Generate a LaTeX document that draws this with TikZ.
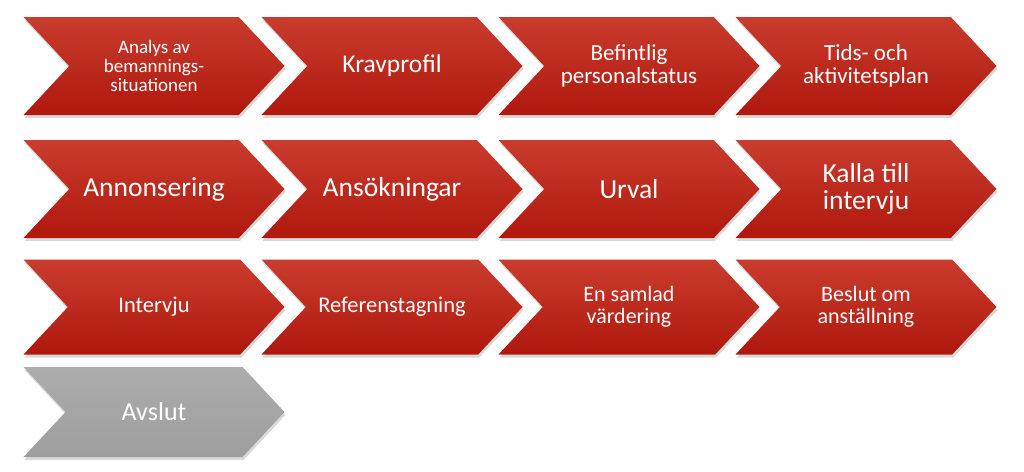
\documentclass[tikz,border=0pt]{standalone}
\usepackage{fontspec}
\setmainfont{Carlito}
\usetikzlibrary{shapes.symbols,shadows}
\definecolor{redtop}{RGB}{201,60,46}
\definecolor{redbot}{RGB}{176,24,14}
\definecolor{graytop}{RGB}{172,172,172}
\definecolor{graybot}{RGB}{158,158,158}
\newcommand{\fsz}[1]{\fontsize{#1}{#1}\selectfont}
\begin{document}
\begin{tikzpicture}
            [
                x=1pt, y=-1pt,
                phase/.style={signal, signal from=west, signal to=east, signal pointer angle=94,
                    inner sep=0pt, minimum width=261pt, minimum height=98pt, align=center,
                    text=white, top color=redtop, bottom color=redbot,
                    drop shadow={opacity=0.3, shadow xshift=1pt, shadow yshift=-3pt}},
                closing/.style={phase, top color=graytop, bottom color=graybot}
            ]
            \useasboundingbox (0,0) rectangle (1024,471);
            % Row 1
            \node[phase, font=\fsz{19}] (analys) at (154,66) {Analys av\\bemannings-\\situationen};
            \node[phase, font=\fsz{25.5}] (krav) at (392,66) {Kravprofil};
            \node[phase, font=\fsz{23}] (befintlig) at (629,66) {Befintlig\\personalstatus};
            \node[phase, font=\fsz{23}] (tidsplan) at (866,66) {Tids- och\\aktivitetsplan};
            % Row 2
            \node[phase, font=\fsz{27.5}] (annons) at (154,189) {Annonsering};
            \node[phase, font=\fsz{27.5}] (ansok) at (392,189) {Ansökningar};
            \node[phase, font=\fsz{27.5}] (urval) at (629,189) {Urval};
            \node[phase, font=\fsz{27.5}] (kalla) at (866,189) {Kalla till\\intervju};
            % Row 3
            \node[phase, font=\fsz{22.5}, minimum height=95pt] (intervju) at (154,307) {Intervju};
            \node[phase, font=\fsz{22.5}, minimum height=95pt] (referens) at (392,307) {Referenstagning};
            \node[phase, font=\fsz{22}, minimum height=95pt] (vardering) at (629,307) {En samlad\\värdering};
            \node[phase, font=\fsz{22}, minimum height=95pt] (beslut) at (866,307) {Beslut om\\anställning};
            % Row 4
            \node[closing, font=\fsz{26}, minimum height=90pt] (avslut) at (154,412) {Avslut};
\end{tikzpicture}
\end{document}
